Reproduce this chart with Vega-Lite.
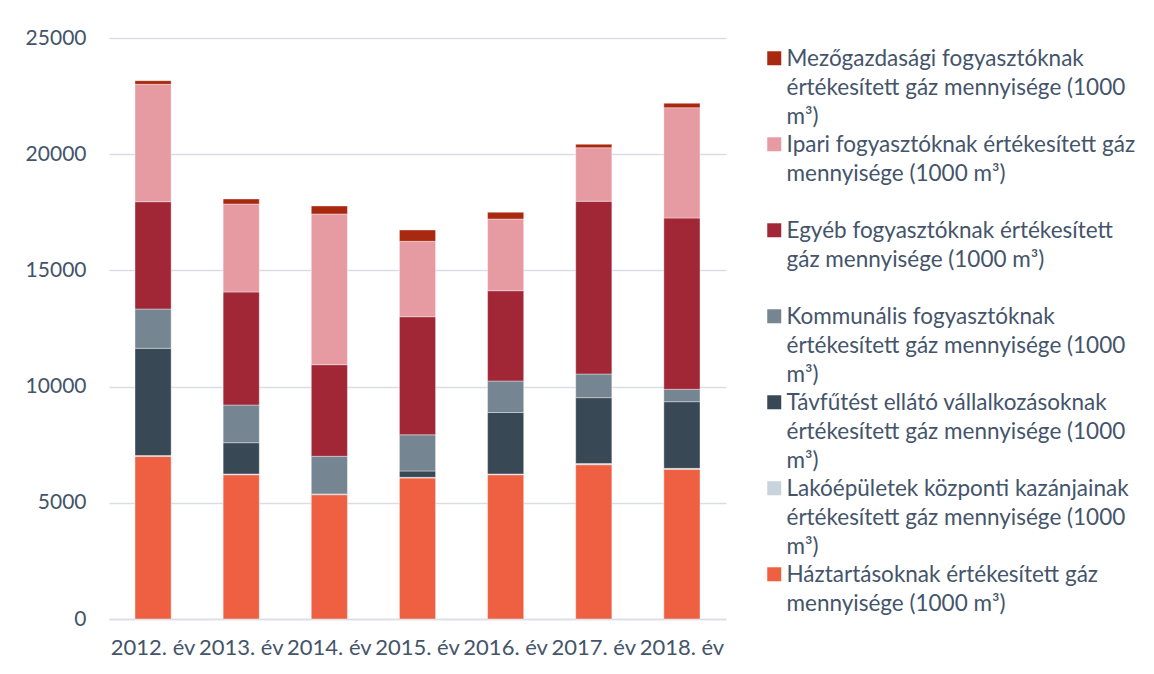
{
  "$schema": "https://vega.github.io/schema/vega-lite/v6.json",
  "width": 617,
  "height": 581,
  "autosize": {"type": "none"},
  "padding": {"left": 109, "top": 38, "right": 428, "bottom": 55},
  "background": "#ffffff",
  "data": {
    "values": [
      {"ev": "2012. év", "sorozat": "Háztartásoknak értékesített gáz mennyisége (1000 m³)", "ertek": 7001},
      {"ev": "2012. év", "sorozat": "Lakóépületek központi kazánjainak értékesített gáz mennyisége (1000 m³)", "ertek": 30},
      {"ev": "2012. év", "sorozat": "Távfűtést ellátó vállalkozásoknak értékesített gáz mennyisége (1000 m³)", "ertek": 4617},
      {"ev": "2012. év", "sorozat": "Kommunális fogyasztóknak értékesített gáz mennyisége (1000 m³)", "ertek": 1691},
      {"ev": "2012. év", "sorozat": "Egyéb fogyasztóknak értékesített gáz mennyisége (1000 m³)", "ertek": 4618},
      {"ev": "2012. év", "sorozat": "Ipari fogyasztóknak értékesített gáz mennyisége (1000 m³)", "ertek": 5051},
      {"ev": "2012. év", "sorozat": "Mezőgazdasági fogyasztóknak értékesített gáz mennyisége (1000 m³)", "ertek": 155},

      {"ev": "2013. év", "sorozat": "Háztartásoknak értékesített gáz mennyisége (1000 m³)", "ertek": 6209},
      {"ev": "2013. év", "sorozat": "Lakóépületek központi kazánjainak értékesített gáz mennyisége (1000 m³)", "ertek": 30},
      {"ev": "2013. év", "sorozat": "Távfűtést ellátó vállalkozásoknak értékesített gáz mennyisége (1000 m³)", "ertek": 1347},
      {"ev": "2013. év", "sorozat": "Kommunális fogyasztóknak értékesített gáz mennyisége (1000 m³)", "ertek": 1622},
      {"ev": "2013. év", "sorozat": "Egyéb fogyasztóknak értékesített gáz mennyisége (1000 m³)", "ertek": 4863},
      {"ev": "2013. év", "sorozat": "Ipari fogyasztóknak értékesített gáz mennyisége (1000 m³)", "ertek": 3786},
      {"ev": "2013. év", "sorozat": "Mezőgazdasági fogyasztóknak értékesített gáz mennyisége (1000 m³)", "ertek": 216},

      {"ev": "2014. év", "sorozat": "Háztartásoknak értékesített gáz mennyisége (1000 m³)", "ertek": 5349},
      {"ev": "2014. év", "sorozat": "Lakóépületek központi kazánjainak értékesített gáz mennyisége (1000 m³)", "ertek": 20},
      {"ev": "2014. év", "sorozat": "Távfűtést ellátó vállalkozásoknak értékesített gáz mennyisége (1000 m³)", "ertek": 15},
      {"ev": "2014. év", "sorozat": "Kommunális fogyasztóknak értékesített gáz mennyisége (1000 m³)", "ertek": 1617},
      {"ev": "2014. év", "sorozat": "Egyéb fogyasztóknak értékesített gáz mennyisége (1000 m³)", "ertek": 3942},
      {"ev": "2014. év", "sorozat": "Ipari fogyasztóknak értékesített gáz mennyisége (1000 m³)", "ertek": 6484},
      {"ev": "2014. év", "sorozat": "Mezőgazdasági fogyasztóknak értékesített gáz mennyisége (1000 m³)", "ertek": 344},

      {"ev": "2015. év", "sorozat": "Háztartásoknak értékesített gáz mennyisége (1000 m³)", "ertek": 6067},
      {"ev": "2015. év", "sorozat": "Lakóépületek központi kazánjainak értékesített gáz mennyisége (1000 m³)", "ertek": 30},
      {"ev": "2015. év", "sorozat": "Távfűtést ellátó vállalkozásoknak értékesített gáz mennyisége (1000 m³)", "ertek": 270},
      {"ev": "2015. év", "sorozat": "Kommunális fogyasztóknak értékesített gáz mennyisége (1000 m³)", "ertek": 1558},
      {"ev": "2015. év", "sorozat": "Egyéb fogyasztóknak értékesített gáz mennyisége (1000 m³)", "ertek": 5082},
      {"ev": "2015. év", "sorozat": "Ipari fogyasztóknak értékesített gáz mennyisége (1000 m³)", "ertek": 3244},
      {"ev": "2015. év", "sorozat": "Mezőgazdasági fogyasztóknak értékesített gáz mennyisége (1000 m³)", "ertek": 487},

      {"ev": "2016. év", "sorozat": "Háztartásoknak értékesített gáz mennyisége (1000 m³)", "ertek": 6209},
      {"ev": "2016. év", "sorozat": "Lakóépületek központi kazánjainak értékesített gáz mennyisége (1000 m³)", "ertek": 30},
      {"ev": "2016. év", "sorozat": "Távfűtést ellátó vállalkozásoknak értékesített gáz mennyisége (1000 m³)", "ertek": 2647},
      {"ev": "2016. év", "sorozat": "Kommunális fogyasztóknak értékesített gáz mennyisége (1000 m³)", "ertek": 1355},
      {"ev": "2016. év", "sorozat": "Egyéb fogyasztóknak értékesített gáz mennyisége (1000 m³)", "ertek": 3886},
      {"ev": "2016. év", "sorozat": "Ipari fogyasztóknak értékesített gáz mennyisége (1000 m³)", "ertek": 3085},
      {"ev": "2016. év", "sorozat": "Mezőgazdasági fogyasztóknak értékesített gáz mennyisége (1000 m³)", "ertek": 288},

      {"ev": "2017. év", "sorozat": "Háztartásoknak értékesített gáz mennyisége (1000 m³)", "ertek": 6640},
      {"ev": "2017. év", "sorozat": "Lakóépületek központi kazánjainak értékesített gáz mennyisége (1000 m³)", "ertek": 50},
      {"ev": "2017. év", "sorozat": "Távfűtést ellátó vállalkozásoknak értékesített gáz mennyisége (1000 m³)", "ertek": 2833},
      {"ev": "2017. év", "sorozat": "Kommunális fogyasztóknak értékesített gáz mennyisége (1000 m³)", "ertek": 1019},
      {"ev": "2017. év", "sorozat": "Egyéb fogyasztóknak értékesített gáz mennyisége (1000 m³)", "ertek": 7432},
      {"ev": "2017. év", "sorozat": "Ipari fogyasztóknak értékesített gáz mennyisége (1000 m³)", "ertek": 2306},
      {"ev": "2017. év", "sorozat": "Mezőgazdasági fogyasztóknak értékesített gáz mennyisége (1000 m³)", "ertek": 146},

      {"ev": "2018. év", "sorozat": "Háztartásoknak értékesített gáz mennyisége (1000 m³)", "ertek": 6442},
      {"ev": "2018. év", "sorozat": "Lakóépületek központi kazánjainak értékesített gáz mennyisége (1000 m³)", "ertek": 40},
      {"ev": "2018. év", "sorozat": "Távfűtést ellátó vállalkozásoknak értékesített gáz mennyisége (1000 m³)", "ertek": 2868},
      {"ev": "2018. év", "sorozat": "Kommunális fogyasztóknak értékesített gáz mennyisége (1000 m³)", "ertek": 534},
      {"ev": "2018. év", "sorozat": "Egyéb fogyasztóknak értékesített gáz mennyisége (1000 m³)", "ertek": 7371},
      {"ev": "2018. év", "sorozat": "Ipari fogyasztóknak értékesített gáz mennyisége (1000 m³)", "ertek": 4746},
      {"ev": "2018. év", "sorozat": "Mezőgazdasági fogyasztóknak értékesített gáz mennyisége (1000 m³)", "ertek": 189}
    ]
  },
  "transform": [
    {"calculate": "indexof(['Háztartásoknak értékesített gáz mennyisége (1000 m³)', 'Lakóépületek központi kazánjainak értékesített gáz mennyisége (1000 m³)', 'Távfűtést ellátó vállalkozásoknak értékesített gáz mennyisége (1000 m³)', 'Kommunális fogyasztóknak értékesített gáz mennyisége (1000 m³)', 'Egyéb fogyasztóknak értékesített gáz mennyisége (1000 m³)', 'Ipari fogyasztóknak értékesített gáz mennyisége (1000 m³)', 'Mezőgazdasági fogyasztóknak értékesített gáz mennyisége (1000 m³)'], datum.sorozat)", "as": "rend"}
  ],
  "mark": {"type": "bar", "stroke": "#ffffff", "strokeWidth": 0.75, "strokeOpacity": 0.5},
  "encoding": {
    "x": {
      "field": "ev",
      "type": "nominal",
      "sort": null,
      "scale": {"paddingInner": 0.59, "paddingOuter": 0.295},
      "axis": {
        "title": null,
        "labelAngle": 0,
        "ticks": false,
        "domain": true,
        "domainColor": "#D9DEE6",
        "domainWidth": 1.5,
        "labelPadding": 18,
        "labelFont": "Lato",
        "labelFontSize": 22,
        "labelColor": "#44546A"
      }
    },
    "y": {
      "field": "ertek",
      "type": "quantitative",
      "stack": "zero",
      "scale": {"domain": [0, 25000], "nice": false},
      "axis": {
        "title": null,
        "values": [0, 5000, 10000, 15000, 20000, 25000],
        "format": "d",
        "domain": false,
        "ticks": false,
        "grid": true,
        "gridColor": "#D9DEE6",
        "gridWidth": 1.5,
        "labelPadding": 23,
        "labelFont": "Lato",
        "labelFontSize": 21,
        "labelColor": "#44546A"
      }
    },
    "color": {
      "field": "sorozat",
      "type": "nominal",
      "scale": {
        "domain": [
          "Mezőgazdasági fogyasztóknak értékesített gáz mennyisége (1000 m³)",
          "Ipari fogyasztóknak értékesített gáz mennyisége (1000 m³)",
          "Egyéb fogyasztóknak értékesített gáz mennyisége (1000 m³)",
          "Kommunális fogyasztóknak értékesített gáz mennyisége (1000 m³)",
          "Távfűtést ellátó vállalkozásoknak értékesített gáz mennyisége (1000 m³)",
          "Lakóépületek központi kazánjainak értékesített gáz mennyisége (1000 m³)",
          "Háztartásoknak értékesített gáz mennyisége (1000 m³)"
        ],
        "range": ["#A8290F", "#E69BA3", "#A12737", "#758592", "#394855", "#C8D3DB", "#EF6043"]
      },
      "legend": {
        "title": null,
        "orient": "none",
        "legendX": 654,
        "legendY": 17,
        "padding": 0,
        "rowPadding": 5,
        "symbolType": "M-1,-2.14H1V-0.14H-1Z",
        "symbolSize": 196,
        "symbolStrokeWidth": 0,
        "labelOffset": 1,
        "labelBaseline": "alphabetic",
        "labelFont": "Lato",
        "labelFontSize": 22.5,
        "labelColor": "#44546A",
        "labelLimit": 0,
        "labelExpr": "datum.label == 'Mezőgazdasági fogyasztóknak értékesített gáz mennyisége (1000 m³)' ? ['Mezőgazdasági fogyasztóknak', 'értékesített gáz mennyisége (1000', 'm³)'] : datum.label == 'Ipari fogyasztóknak értékesített gáz mennyisége (1000 m³)' ? ['Ipari fogyasztóknak értékesített gáz', 'mennyisége (1000 m³)', ' '] : datum.label == 'Egyéb fogyasztóknak értékesített gáz mennyisége (1000 m³)' ? ['Egyéb fogyasztóknak értékesített', 'gáz mennyisége (1000 m³)', ' '] : datum.label == 'Kommunális fogyasztóknak értékesített gáz mennyisége (1000 m³)' ? ['Kommunális fogyasztóknak', 'értékesített gáz mennyisége (1000', 'm³)'] : datum.label == 'Távfűtést ellátó vállalkozásoknak értékesített gáz mennyisége (1000 m³)' ? ['Távfűtést ellátó vállalkozásoknak', 'értékesített gáz mennyisége (1000', 'm³)'] : datum.label == 'Lakóépületek központi kazánjainak értékesített gáz mennyisége (1000 m³)' ? ['Lakóépületek központi kazánjainak', 'értékesített gáz mennyisége (1000', 'm³)'] : ['Háztartásoknak értékesített gáz', 'mennyisége (1000 m³)', ' ']"
      }
    },
    "order": {"field": "rend", "type": "quantitative"}
  },
  "config": {
    "view": {"stroke": null},
    "style": {"guide-label": {"lineHeight": 28.7}}
  }
}
